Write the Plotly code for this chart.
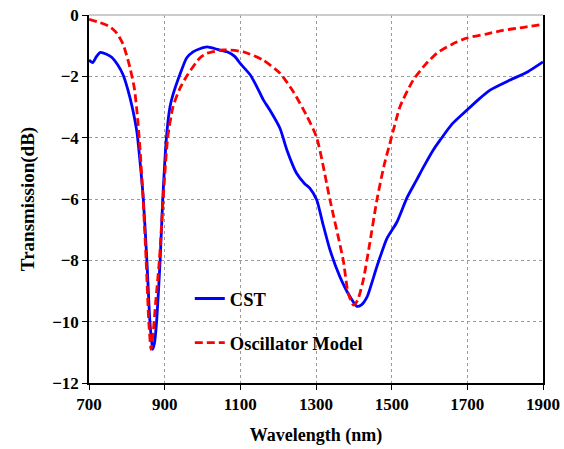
import plotly.graph_objects as go

# CST simulation (blue solid)
cst_x = [700, 710, 720, 730, 745, 760, 777, 790, 803, 815, 827, 835, 843, 853, 861, 868, 873,
         879, 888, 895, 905, 914, 922, 940, 958, 975, 993, 1012, 1040, 1065, 1085, 1099, 1126,
         1144, 1160, 1178, 1205, 1223, 1249, 1270, 1284, 1302, 1318, 1337, 1363, 1390, 1408,
         1420, 1435, 1461, 1487, 1514, 1540, 1565, 1584, 1610, 1628, 1660, 1699, 1730, 1760,
         1813, 1860, 1900]
cst_y = [-1.47, -1.55, -1.35, -1.22, -1.27, -1.38, -1.65, -1.95, -2.45, -3.05, -3.85, -4.8, -5.9,
         -8.0, -10.0, -10.9, -10.7, -9.95, -8.0, -6.0, -3.95, -3.0, -2.6, -1.95, -1.4, -1.2,
         -1.1, -1.04, -1.12, -1.2, -1.35, -1.57, -1.95, -2.35, -2.75, -3.1, -3.7, -4.4, -5.17,
         -5.5, -5.65, -6.03, -6.8, -7.66, -8.53, -9.19, -9.5, -9.45, -9.19, -8.2, -7.3, -6.75,
         -5.97, -5.4, -4.96, -4.4, -4.08, -3.55, -3.1, -2.75, -2.45, -2.12, -1.85, -1.53]

# Oscillator model (red dashed)
osc_x = [700, 730, 755, 774, 790, 808, 820, 828, 835, 843, 851, 858, 864, 870, 876, 886, 896,
         908, 922, 940, 958, 993, 1012, 1055, 1108, 1160, 1205, 1240, 1276, 1302, 1337, 1372,
         1385, 1399, 1410, 1425, 1440, 1461, 1480, 1500, 1522, 1557, 1590, 1620, 1660, 1699,
         1750, 1794, 1850, 1900]
osc_y = [-0.14, -0.25, -0.38, -0.6, -0.95, -1.7, -2.4, -3.3, -4.4, -6.0, -8.0, -10.0, -10.9,
         -10.3, -9.4, -8.0, -6.0, -4.0, -3.0, -2.4, -2.0, -1.4, -1.25, -1.14, -1.2, -1.47, -1.9,
         -2.5, -3.3, -4.0, -6.03, -8.0, -9.07, -9.46, -9.3, -8.64, -7.6, -6.03, -4.9, -3.97,
         -2.99, -2.12, -1.6, -1.24, -0.95, -0.75, -0.62, -0.5, -0.4, -0.3]

x_ticks = [700, 900, 1100, 1300, 1500, 1700, 1900]
y_ticks = [0, -2, -4, -6, -8, -10, -12]

FONT = "'Liberation Serif', 'Times New Roman', Times, serif"

fig = go.Figure()
fig.add_trace(go.Scatter(x=cst_x, y=cst_y, mode="lines", name="CST",
                         line=dict(color="#0000ff", width=2.8, shape="spline", smoothing=0.6),
                         legendgroup="a"))
fig.add_trace(go.Scatter(x=osc_x, y=osc_y, mode="lines", name="Oscillator Model",
                         line=dict(color="#ff0000", width=2.8, dash="8px,4px", shape="spline", smoothing=0.6),
                         legendgroup="b"))

fig.update_layout(
    width=564, height=449,
    margin=dict(l=89, r=21, t=15, b=66, autoexpand=False),
    paper_bgcolor="white", plot_bgcolor="white",
    font=dict(family=FONT, size=17, color="black", weight="bold"),
    showlegend=True,
    legend=dict(x=0.222, y=0.28, xanchor="left", yanchor="top",
                bgcolor="rgba(0,0,0,0)", font=dict(size=18.5, family=FONT, weight="bold"),
                tracegroupgap=17),
    xaxis=dict(range=[700, 1900], tickvals=x_ticks, showgrid=True,
               gridcolor="#9a9a9a", griddash="dot", gridwidth=1,
               showline=True, linecolor="black", linewidth=1.5,
               ticks="outside", ticklen=5, tickcolor="black",
               zeroline=False, automargin=False,
               title=dict(text="Wavelength (nm)", font=dict(size=18, family=FONT, weight="bold"), standoff=15)),
    yaxis=dict(range=[-12, 0], tickvals=y_ticks, showgrid=True,
               gridcolor="#9a9a9a", griddash="dot", gridwidth=1,
               showline=True, linecolor="black", linewidth=1.5, mirror=True,
               ticks="outside", ticklen=5, tickcolor="black",
               zeroline=False, automargin=False,
               title=dict(text="Transmission(dB)", font=dict(size=19, family=FONT, weight="bold"), standoff=13)),
)
fig.add_shape(type="line", xref="paper", yref="paper", x0=0, x1=1, y0=1, y1=1,
              line=dict(color="#bbbbbb", width=1.5))

fig.write_html("out.html")
